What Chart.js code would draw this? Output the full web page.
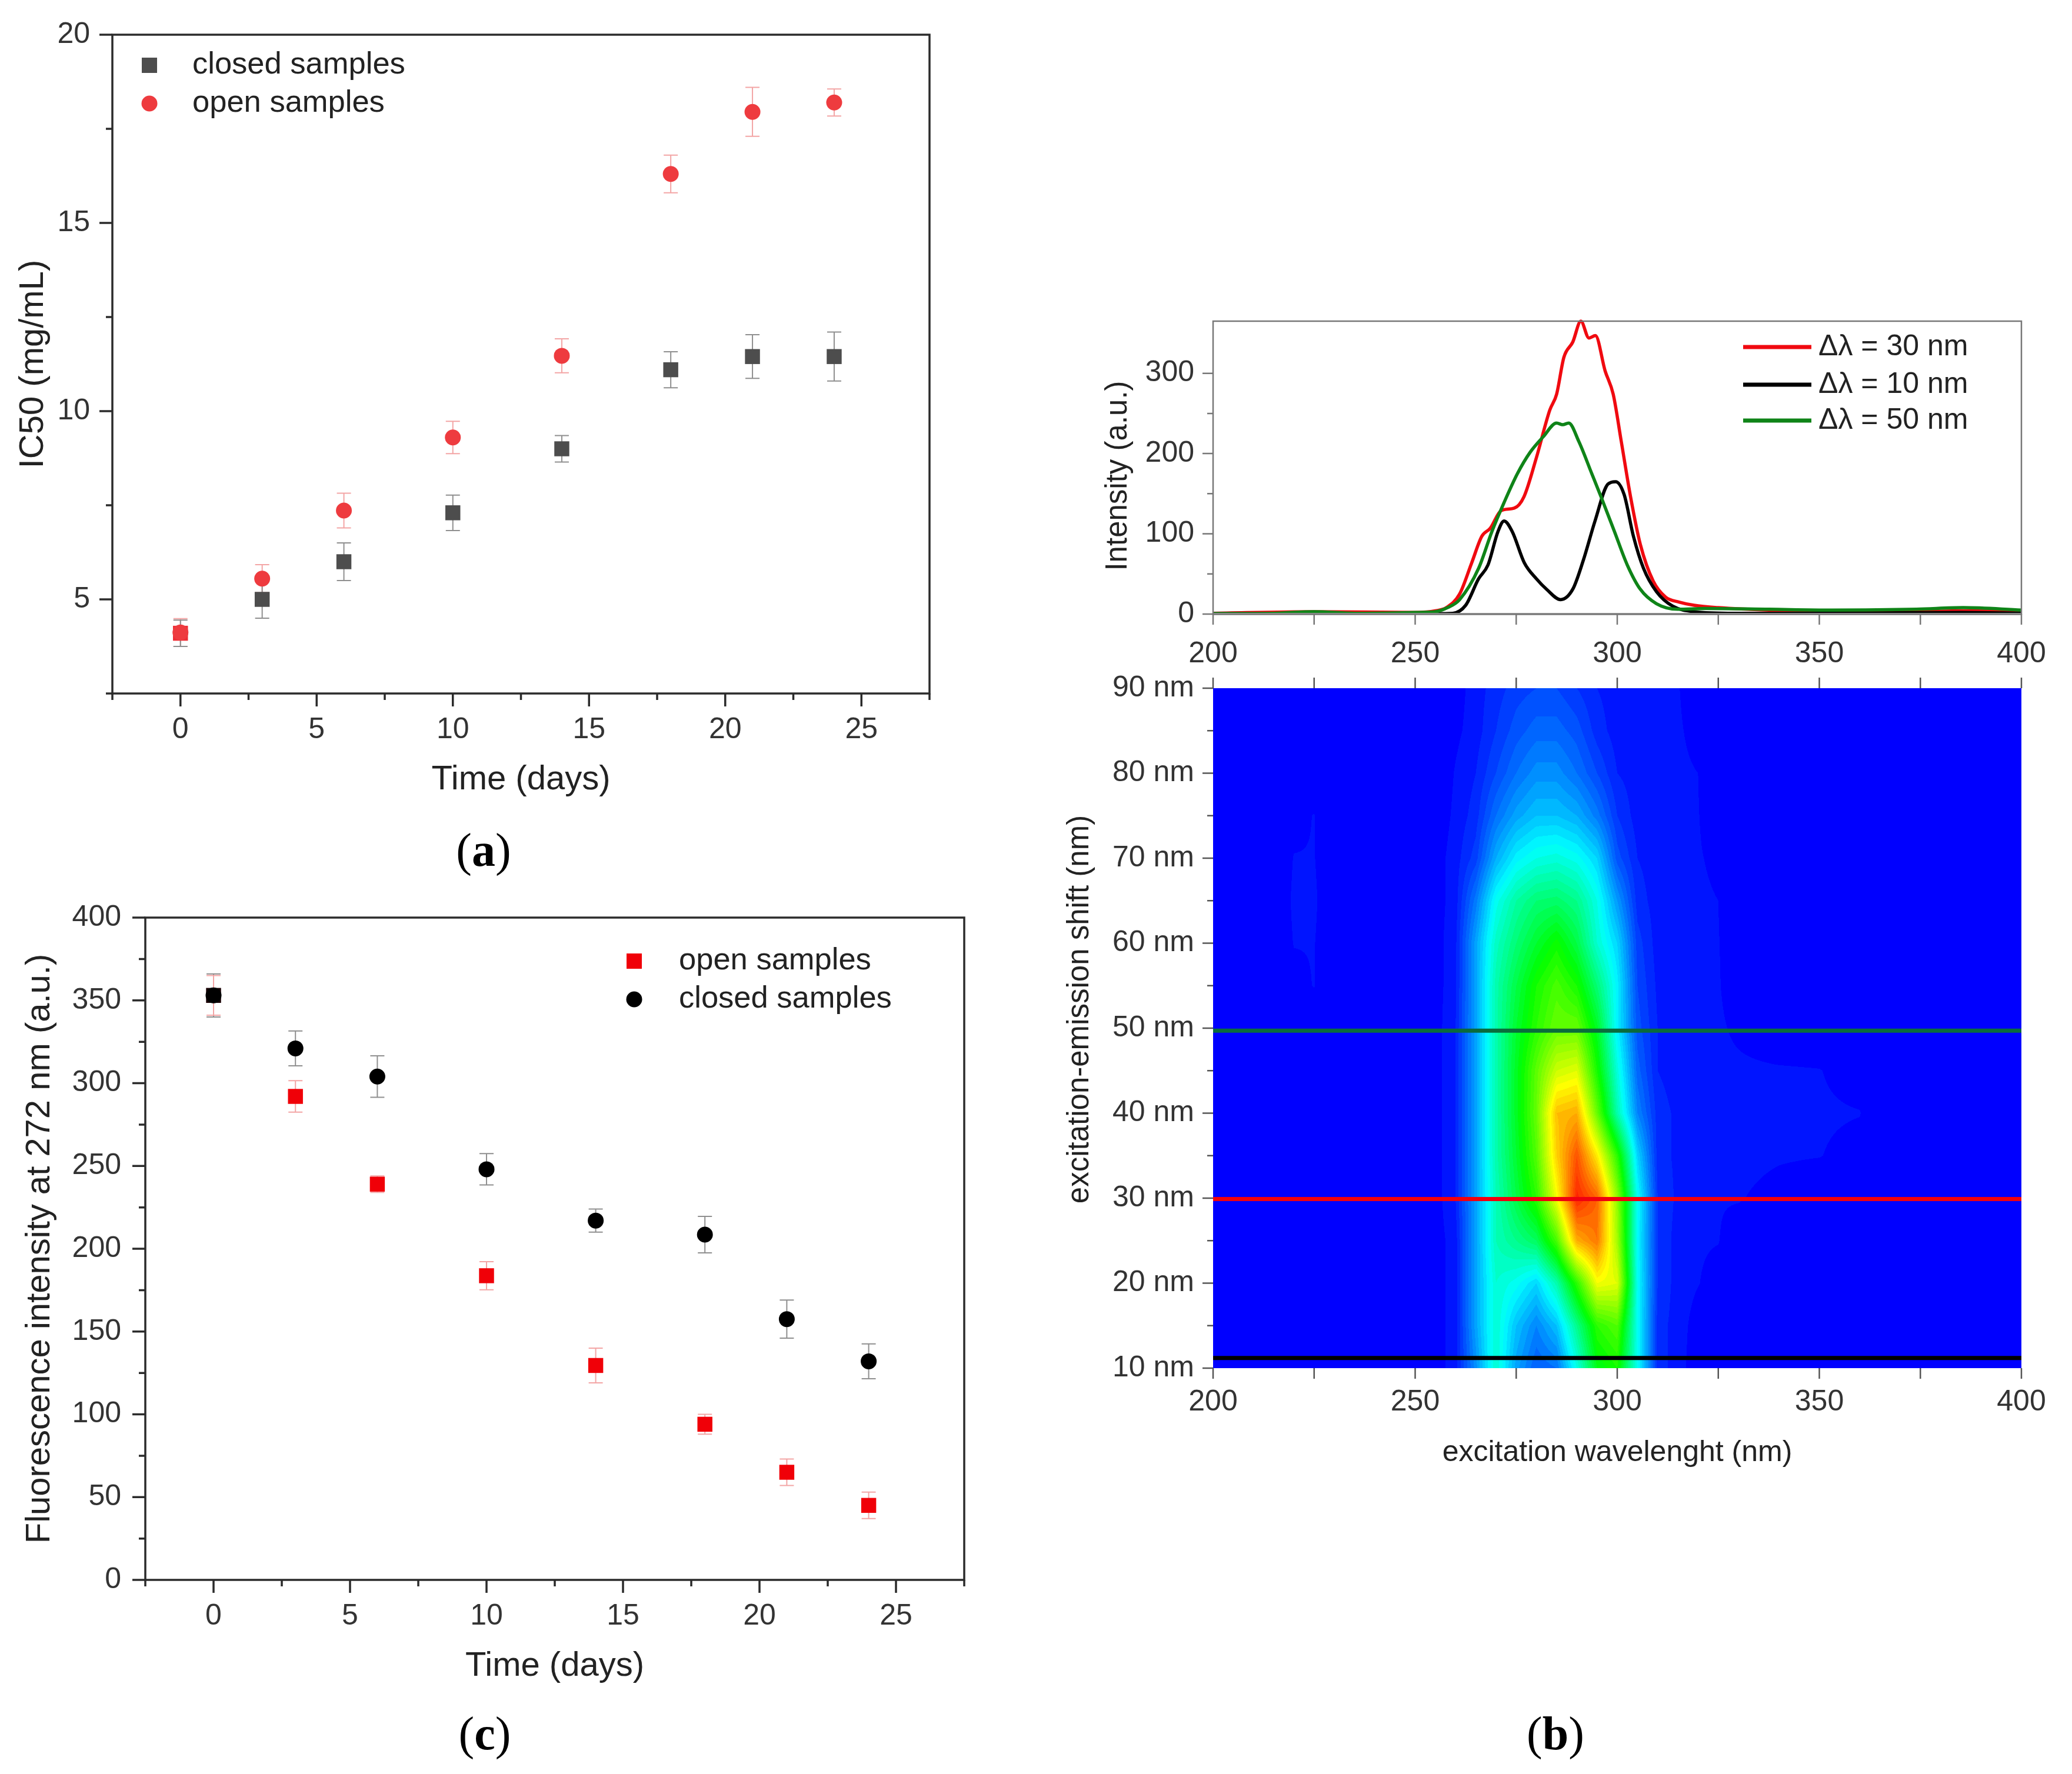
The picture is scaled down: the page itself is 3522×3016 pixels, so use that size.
<!DOCTYPE html>
<html>
<head>
<meta charset="utf-8">
<title>IC50, fluorescence and synchronous spectra</title>
<script src="https://cdn.jsdelivr.net/npm/chart.js@4"></script>
<style>
  html, body { margin: 0; padding: 0; background: #fff; }
  #page { position: relative; width: 3522px; height: 3016px; overflow: hidden; }
  canvas { position: absolute; }
  .tag { position: absolute; transform: translate(-50%, -50%); font: 80px "Liberation Serif"; color: #000; }
</style>
</head>
<body>
<div id="page">
  <canvas id="chartA" style="left:0;top:0" width="1720" height="1420"></canvas>
  <canvas id="chartC" style="left:0;top:1500px" width="1720" height="1420"></canvas>
  <canvas id="chartB1" style="left:1800px;top:480px" width="1722" height="680"></canvas>
  <canvas id="chartB2" style="left:1800px;top:1100px" width="1722" height="1450"></canvas>
  <div class="tag" style="left:822px;top:1445px">(<b>a</b>)</div>
  <div class="tag" style="left:824px;top:2947px">(<b>c</b>)</div>
  <div class="tag" style="left:2644px;top:2947px">(<b>b</b>)</div>
</div>
<script>
// panel a
var days = [0, 3, 6, 10, 14, 18, 21, 24];
var ic50Closed = [4.1, 5.0, 6.0, 7.3, 9.0, 11.1, 11.45, 11.45];
var ic50ClosedErr = [0.35, 0.5, 0.5, 0.47, 0.35, 0.48, 0.58, 0.65];
var ic50Open = [4.12, 5.55, 7.36, 9.3, 11.47, 16.3, 17.95, 18.2];
var ic50OpenErr = [0.37, 0.37, 0.46, 0.43, 0.45, 0.5, 0.65, 0.36];

// panel c
var fluoOpen = [353, 292, 239, 183.7, 129.5, 94, 65, 45];
var fluoOpenErr = [12, 9.5, 5, 8.5, 10.5, 6, 8, 8];
var fluoClosed = [353, 321, 304, 248, 217, 208.5, 157.5, 132];
var fluoClosedErr = [13, 10.5, 12.5, 9.5, 7, 11, 11.5, 10.5];

// panel b, spectra
var redX = [200, 225, 250, 255, 257.7, 261, 264, 266.5, 268.6, 271.3, 274.5, 276.9, 280, 283.3, 285, 286.8, 289, 291, 293, 294.6, 297, 299, 301, 303.3, 305.7, 308.9, 312, 315.3, 319, 325, 337.6, 353, 374, 385, 400];
var redY = [1, 3, 2, 4, 8, 25, 64, 97, 107, 129, 132, 146, 195, 254, 274, 320, 339, 365, 344, 347, 303, 274, 215, 146, 87, 41, 21, 15, 11, 8, 5, 4, 3, 4, 3];
var blackX = [200, 225, 255, 259.3, 262.5, 265.7, 268, 270.5, 272, 274, 277, 280, 282.5, 286, 289, 291.6, 294.5, 297.7, 299.6, 301.7, 304, 306.5, 309.7, 313.7, 319, 329, 350, 385, 400];
var blackY = [0.5, 0.5, 0.5, 1, 11, 44, 61, 103, 116, 103, 64, 44, 31, 18, 31, 67, 116, 162, 165, 149, 97, 57, 28, 10, 3, 1, 1, 2, 1];
var greenX = [200, 215, 225, 235, 250, 255, 258, 261, 265.7, 269, 272, 275.3, 278.5, 281.7, 285, 286.5, 288, 290.5, 293.7, 296, 299.3, 302.5, 305.7, 309.7, 315, 321.7, 337.6, 353, 374, 385.6, 400];
var greenY = [0.5, 1, 3, 1, 2, 3, 8, 18, 57, 103, 139, 175, 202, 221, 238, 236, 238, 215, 175, 146, 103, 61, 31, 13, 6, 7, 6, 5, 6, 8, 5];

// panel b, map. one row of heat per entry of shifts, one value per entry of waves (1 = peak)
var waves = [200, 215, 220, 225, 230, 250, 255, 260, 265, 270, 275, 280, 285, 290, 295, 300, 305, 310, 315, 320, 325, 330, 340, 350, 360, 365, 400];
var shifts = [10, 15, 20, 25, 30, 35, 40, 45, 50, 55, 60, 65, 70, 75, 80, 85, 90];
var heat = [
  [0, 0, 0, 0, 0, 0, .01, .03, .15, .30, .17, .10, .12, .28, .46, .50, .27, .05, .03, .005, 0, 0, 0, 0, 0, 0, 0],
  [0, 0, 0, 0, 0, 0, .01, .03, .17, .30, .20, .14, .20, .36, .52, .56, .27, .05, .03, .01, 0, 0, 0, 0, 0, 0, 0],
  [0, 0, 0, 0, 0, 0, .01, .03, .17, .30, .27, .22, .33, .52, .72, .70, .27, .06, .03, .021, .01, 0, 0, 0, 0, 0, 0],
  [0, 0, 0, 0, 0, 0, .01, .03, .17, .32, .36, .40, .55, .82, .88, .64, .26, .06, .03, .023, .021, .005, 0, 0, 0, 0, 0],
  [0, 0, 0, 0, 0, 0, .01, .04, .17, .32, .42, .52, .72, .97, .90, .62, .27, .06, .035, .025, .022, .022, .01, 0, 0, 0, 0],
  [0, 0, 0, 0, 0, 0, .01, .04, .17, .33, .44, .56, .78, .92, .75, .52, .22, .05, .035, .03, .03, .028, .023, .021, .01, 0, 0],
  [0, 0, 0, 0, 0, 0, .01, .04, .17, .33, .45, .58, .80, .82, .58, .33, .14, .05, .035, .03, .03, .03, .026, .024, .021, 0, 0],
  [0, 0, 0, 0, 0, 0, .01, .04, .17, .33, .45, .57, .68, .70, .50, .29, .11, .04, .03, .028, .026, .025, .023, .021, .008, 0, 0],
  [0, 0, 0, 0, 0, 0, .01, .04, .17, .33, .44, .52, .58, .58, .45, .25, .09, .04, .03, .026, .024, .015, 0, 0, 0, 0, 0],
  [0, 0, .012, .021, 0, 0, .01, .035, .17, .33, .42, .50, .55, .50, .38, .25, .08, .035, .03, .025, .022, .005, 0, 0, 0, 0, 0],
  [0, 0, .021, .021, 0, 0, .01, .035, .17, .31, .38, .44, .49, .42, .30, .22, .07, .03, .028, .025, .021, .005, 0, 0, 0, 0, 0],
  [0, 0, .024, .024, 0, 0, .01, .03, .13, .27, .34, .38, .39, .36, .28, .16, .05, .03, .026, .024, .02, 0, 0, 0, 0, 0, 0],
  [0, 0, .021, .021, 0, 0, .01, .03, .07, .18, .25, .28, .29, .27, .22, .09, .04, .03, .025, .022, .015, 0, 0, 0, 0, 0, 0],
  [0, 0, .012, .021, 0, 0, .005, .025, .05, .12, .17, .20, .20, .18, .13, .06, .03, .025, .024, .021, .005, 0, 0, 0, 0, 0, 0],
  [0, 0, 0, 0, 0, 0, 0, .022, .04, .08, .12, .15, .15, .12, .08, .04, .03, .025, .023, .02, 0, 0, 0, 0, 0, 0, 0],
  [0, 0, 0, 0, 0, 0, 0, .015, .03, .06, .09, .11, .11, .09, .05, .03, .025, .024, .022, .015, 0, 0, 0, 0, 0, 0, 0],
  [0, 0, 0, 0, 0, 0, 0, .01, .03, .05, .07, .08, .08, .06, .04, .03, .024, .022, .021, .01, 0, 0, 0, 0, 0, 0, 0]
];
var slices = [11.2, 29.9, 49.7];

var sans = '"Liberation Sans"';
var tickColor = '#333333';
var hot = [[0, 0, 0, 255], [.25, 0, 255, 255], [.47, 0, 255, 0], [.72, 255, 255, 0], [1, 255, 0, 0]];

function rainbow(v) {
  v = Math.floor(Math.min(v, 1) * 50) / 50;   // the map has stepped contour bands
  for (var i = 1; i < hot.length; i++) {
    if (v <= hot[i][0]) {
      var a = hot[i - 1], b = hot[i], t = (v - a[0]) / (b[0] - a[0]);
      return [a[1] + (b[1] - a[1]) * t, a[2] + (b[2] - a[2]) * t, a[3] + (b[3] - a[3]) * t];
    }
  }
  return [255, 0, 0];
}

function gridIndex(list, v) {
  var i = 0;
  while (i < list.length - 2 && list[i + 1] < v) i++;
  return i;
}

// paints the map inside the chart area, each pixel looked up through the scales
var heatPlugin = {
  id: 'heatMap',
  beforeDatasetsDraw: function (chart) {
    if (!chart.options.plugins.dress.map) return;
    var a = chart.chartArea, w = Math.round(a.right - a.left), h = Math.round(a.bottom - a.top);
    var off = document.createElement('canvas');
    off.width = w; off.height = h;
    var octx = off.getContext('2d'), img = octx.createImageData(w, h);
    for (var py = 0; py < h; py++) {
      var s = chart.scales.y.getValueForPixel(a.top + py + 0.5);
      var r = gridIndex(shifts, s), tr = (s - shifts[r]) / (shifts[r + 1] - shifts[r]);
      for (var px = 0; px < w; px++) {
        var l = chart.scales.x.getValueForPixel(a.left + px + 0.5);
        var c = gridIndex(waves, l), tc = (l - waves[c]) / (waves[c + 1] - waves[c]);
        var low = heat[r][c] + (heat[r][c + 1] - heat[r][c]) * tc;
        var up = heat[r + 1][c] + (heat[r + 1][c + 1] - heat[r + 1][c]) * tc;
        var rgb = rainbow(low + (up - low) * tr), k = (py * w + px) * 4;
        img.data[k] = rgb[0]; img.data[k + 1] = rgb[1]; img.data[k + 2] = rgb[2]; img.data[k + 3] = 255;
      }
    }
    octx.putImageData(img, 0, 0);
    chart.ctx.drawImage(off, a.left, a.top);
  }
};

// vertical error bars from dataset.errs
var errorPlugin = {
  id: 'errorBars',
  beforeDatasetsDraw: function (chart) {
    var ctx = chart.ctx;
    chart.data.datasets.forEach(function (ds) {
      if (!ds.errs) return;
      ctx.strokeStyle = ds.errColor;
      ctx.lineWidth = 2;
      ds.data.forEach(function (p, i) {
        var x = chart.scales.x.getPixelForValue(p.x);
        var top = chart.scales.y.getPixelForValue(p.y + ds.errs[i]);
        var bot = chart.scales.y.getPixelForValue(p.y - ds.errs[i]);
        ctx.beginPath();
        ctx.moveTo(x, top); ctx.lineTo(x, bot);
        ctx.moveTo(x - 12, top); ctx.lineTo(x + 12, top);
        ctx.moveTo(x - 12, bot); ctx.lineTo(x + 12, bot);
        ctx.stroke();
      });
    });
  }
};

// frame, major and minor ticks, free text and the legends, which sit inside the plots
var dressPlugin = {
  id: 'dress',
  afterDraw: function (chart) {
    var o = chart.options.plugins.dress, ctx = chart.ctx, a = chart.chartArea;
    ctx.save();
    if (o.zeroLine) {
      var y0 = chart.scales.y.getPixelForValue(0);
      ctx.strokeStyle = '#aaaaaa'; ctx.lineWidth = 4;
      ctx.beginPath(); ctx.moveTo(a.left, y0); ctx.lineTo(a.right, y0); ctx.stroke();
    }
    ctx.strokeStyle = o.color;
    ctx.lineWidth = o.frame || 0;
    if (o.frame) ctx.strokeRect(a.left, a.top, a.right - a.left, a.bottom - a.top);
    ctx.lineWidth = o.tickWidth;
    ctx.beginPath();
    chart.scales.x.ticks.forEach(function (t) {
      var x = chart.scales.x.getPixelForValue(t.value), len = t.label !== '' ? o.major : o.minor;
      ctx.moveTo(x, a.bottom); ctx.lineTo(x, a.bottom + (o.sameX ? o.major : len));
      if (o.topTicks) { ctx.moveTo(x, a.top); ctx.lineTo(x, a.top - o.major); }
    });
    chart.scales.y.ticks.forEach(function (t) {
      var y = chart.scales.y.getPixelForValue(t.value), len = t.label !== '' ? o.major : o.minor;
      ctx.moveTo(a.left, y); ctx.lineTo(a.left - len, y);
    });
    ctx.stroke();
    (o.keys || []).forEach(function (k) {
      ctx.fillStyle = k.color;
      if (k.mark === 'rect') ctx.fillRect(k.x - 13, k.y - 13, 26, 26);
      if (k.mark === 'circle') { ctx.beginPath(); ctx.arc(k.x, k.y, 13.5, 0, Math.PI * 2); ctx.fill(); }
      if (k.mark === 'line') {
        ctx.strokeStyle = k.color; ctx.lineWidth = 7;
        ctx.beginPath(); ctx.moveTo(k.x, k.y); ctx.lineTo(k.x + 116, k.y); ctx.stroke();
      }
      ctx.fillStyle = '#222222';
      ctx.font = o.keyFont;
      ctx.textBaseline = 'middle';
      ctx.fillText(k.label, k.tx, k.y);
    });
    (o.texts || []).forEach(function (t) {
      ctx.save();
      ctx.translate(t.x, t.y);
      ctx.rotate(-Math.PI / 2);
      ctx.fillStyle = '#222222'; ctx.font = t.font;
      ctx.textAlign = 'center'; ctx.textBaseline = 'middle';
      ctx.fillText(t.text, 0, 0);
      ctx.restore();
    });
    ctx.restore();
  }
};

Chart.register(heatPlugin, errorPlugin, dressPlugin);

function pairs(xs, ys) {
  return xs.map(function (x, i) { return { x: x, y: ys[i] }; });
}

function axis(c) {
  var every = c.every;
  return {
    type: 'linear', min: c.min, max: c.max,
    // tickLength only spaces the labels here, the tick marks are drawn by the dress plugin
    grid: { display: false, drawTicks: true, tickLength: c.pad },
    border: { display: false },
    title: c.title ? { display: true, text: c.title, color: '#222222', font: { family: sans, size: c.titleSize }, padding: c.titlePad } : { display: false },
    ticks: {
      stepSize: c.step, autoSkip: false, maxRotation: 0, padding: 0, color: tickColor,
      font: { family: sans, size: 50 },
      callback: function (v) {
        if (Math.abs(v / every - Math.round(v / every)) > 1e-6) return '';
        return v + (c.unit || '');
      }
    },
    afterBuildTicks: function (s) {
      s.ticks = s.ticks.filter(function (t) { return Math.abs(t.value / c.step - Math.round(t.value / c.step)) < 1e-6; });
    },
    afterFit: function (s) {
      if (c.boxW) s.width = c.boxW;
      if (c.boxH) s.height = c.boxH;
    }
  };
}

function build(id, area, data, xc, yc, dress) {
  var cv = document.getElementById(id);
  xc.boxH = area.boxH;
  yc.boxW = area.left;
  return new Chart(cv, {
    type: 'scatter',
    data: data,
    options: {
      responsive: false, animation: false, devicePixelRatio: 1,
      layout: { padding: { left: 0, top: area.top, right: cv.width - area.right, bottom: cv.height - area.bottom - area.boxH } },
      scales: { x: axis(xc), y: axis(yc) },
      plugins: { legend: { display: false }, tooltip: { enabled: false }, dress: dress }
    }
  });
}

function marks(label, xs, ys, errs, style, color, errColor, order, radius) {
  return {
    label: label, data: pairs(xs, ys), errs: errs, errColor: errColor, order: order,
    pointStyle: style, pointRadius: radius, pointBackgroundColor: color, pointBorderWidth: 0, showLine: false
  };
}

function curve(label, xs, ys, color, order) {
  return {
    label: label, data: pairs(xs, ys), showLine: true, borderColor: color, borderWidth: 5.5,
    pointRadius: 0, cubicInterpolationMode: 'monotone', order: order, clip: false
  };
}

// panel a. the first closed point is covered by the open one and reads as a red square
var closedColors = days.map(function (d, i) { return i === 0 ? '#ee2e36' : '#4d4d4d'; });
build('chartA', { left: 191, right: 1580, top: 59, bottom: 1179, boxH: 182 }, {
  datasets: [
    marks('open samples', days, ic50Open, ic50OpenErr, 'circle', '#ee3b3f', '#f3a5a5', 1, 13.5),
    marks('closed samples', days, ic50Closed, ic50ClosedErr, 'rect', closedColors, '#8f8f8f', 2, 18)
  ]
},
  { min: -2.5, max: 27.5, step: 2.5, every: 5, title: 'Time (days)', titleSize: 58, titlePad: { top: 0, bottom: 0 }, pad: 32 },
  { min: 2.5, max: 20, step: 2.5, every: 5, title: 'IC50 (mg/mL)', titleSize: 58, titlePad: { top: 22, bottom: 0 }, pad: 38 },
  { color: '#2b2b2b', frame: 3.5, tickWidth: 3.5, major: 22, minor: 11, keyFont: '52.5px ' + sans, keys: [
    { mark: 'rect', color: '#4d4d4d', x: 254, y: 111, tx: 327, label: 'closed samples' },
    { mark: 'circle', color: '#ee3b3f', x: 254, y: 176, tx: 327, label: 'open samples' }
  ] });

// panel c. the black dot hides the first red square, only a dark edge is left
var openColors = days.map(function (d, i) { return i === 0 ? '#1a0004' : '#f00008'; });
build('chartC', { left: 247, right: 1639, top: 60, bottom: 1186, boxH: 182 }, {
  datasets: [
    marks('closed samples', days, fluoClosed, fluoClosedErr, 'circle', '#000000', '#8f8f8f', 1, 13.5),
    marks('open samples', days, fluoOpen, fluoOpenErr, 'rect', openColors, '#f3a5a5', 2, 18)
  ]
},
  { min: -2.5, max: 27.5, step: 2.5, every: 5, title: 'Time (days)', titleSize: 58, titlePad: { top: 0, bottom: 0 }, pad: 32 },
  { min: 0, max: 400, step: 25, every: 50, title: 'Fluorescence intensity at 272 nm (a.u.)', titleSize: 58, titlePad: { top: 33, bottom: 0 }, pad: 41 },
  { color: '#2b2b2b', frame: 3.5, tickWidth: 3.5, major: 22, minor: 11, keyFont: '52.5px ' + sans, keys: [
    { mark: 'rect', color: '#f00008', x: 1078, y: 134, tx: 1154, label: 'open samples' },
    { mark: 'circle', color: '#000000', x: 1078, y: 199, tx: 1154, label: 'closed samples' }
  ] });

// panel b, spectra
build('chartB1', { left: 262, right: 1636, top: 66, bottom: 564, boxH: 100 }, {
  datasets: [
    curve('Δλ = 30 nm', redX, redY, '#f00a10', 3),
    curve('Δλ = 10 nm', blackX, blackY, '#000000', 2),
    curve('Δλ = 50 nm', greenX, greenY, '#0f8418', 1)
  ]
},
  { min: 200, max: 400, step: 25, every: 50, pad: 38 },
  { min: 0, max: 365, step: 50, every: 100, pad: 32 },
  { color: '#777777', frame: 2.5, tickWidth: 2.5, major: 18, minor: 10, sameX: true, zeroLine: true, keyFont: '50px ' + sans,
    texts: [{ text: 'Intensity (a.u.)', x: 101, y: 329, font: '51px ' + sans }],
    keys: [
      { mark: 'line', color: '#f00a10', x: 1163, y: 110, tx: 1291, label: 'Δλ = 30 nm' },
      { mark: 'line', color: '#000000', x: 1163, y: 174, tx: 1291, label: 'Δλ = 10 nm' },
      { mark: 'line', color: '#0f8418', x: 1163, y: 235, tx: 1291, label: 'Δλ = 50 nm' }
    ] });

// panel b, map with the three slices as lines
function slice(shift, color) {
  return {
    data: pairs([200, 400], [shift, shift]), showLine: true, borderColor: color, borderWidth: 7, pointRadius: 0
  };
}

build('chartB2', { left: 262, right: 1636, top: 70, bottom: 1226, boxH: 174 }, {
  datasets: [slice(slices[0], '#000000'), slice(slices[1], '#f0000f'), slice(slices[2], '#0a6b3c')]
},
  { min: 200, max: 400, step: 25, every: 50, title: 'excitation wavelenght (nm)', titleSize: 50, titlePad: { top: 0, bottom: 0 }, pad: 28 },
  { min: 10, max: 90, step: 5, every: 10, unit: ' nm', pad: 32 },
  { map: true, color: '#555555', frame: 0, tickWidth: 2.5, major: 18, minor: 10, sameX: true, topTicks: true,
    texts: [{ text: 'excitation-emission shift (nm)', x: 36, y: 616, font: '51px ' + sans }] });
</script>
</body>
</html>
